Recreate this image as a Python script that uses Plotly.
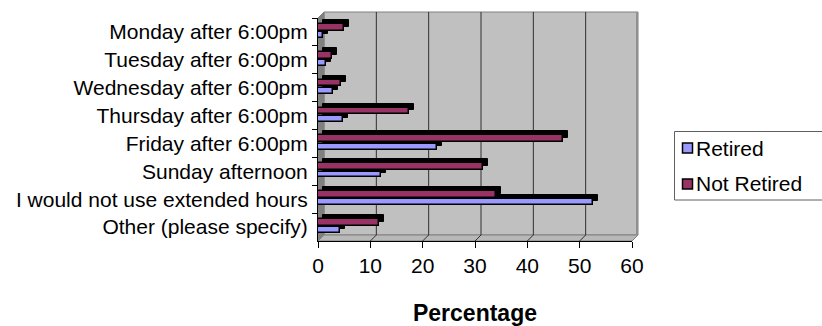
import plotly.graph_objects as go

categories = [
    "Monday after 6:00pm",
    "Tuesday after 6:00pm",
    "Wednesday after 6:00pm",
    "Thursday after 6:00pm",
    "Friday after 6:00pm",
    "Sunday afternoon",
    "I would not use extended hours",
    "Other (please specify)",
]
retired = [0.9, 1.5, 2.8, 4.8, 22.7, 12.0, 52.5, 4.2]
not_retired = [5.0, 2.6, 4.3, 17.3, 46.9, 31.6, 34.0, 11.7]
x_ticks = [0, 10, 20, 30, 40, 50, 60]

W, H = 822, 326
L, R, T, B = 318, 632, 18, 241
XMAX = 60
FONT = "Liberation Sans, Arial, sans-serif"
C_RET = "#9999FF"
C_NOT = "#993366"

ppu_x = (R - L) / XMAX
ppu_y = (B - T) / len(categories)
DX, DY = 5.0, 4.0
WALL = 6

def px(xp):
    return (xp - L) / (R - L)

def py(yp):
    return (B - yp) / (B - T)

fig = go.Figure()

off_not, w_not = -0.285, 0.24
off_ret, w_ret = 0.01, 0.21
sdx = DX / ppu_x
sdy = DY / ppu_y

for vals, off, w in [(not_retired, off_not, w_not), (retired, off_ret, w_ret)]:
    fig.add_trace(go.Bar(
        y=categories, x=vals, base=sdx, orientation="h",
        offset=off - sdy, width=w,
        marker=dict(color="black", line=dict(color="black", width=1)),
        showlegend=False, hoverinfo="skip",
    ))
fig.add_trace(go.Bar(
    y=categories, x=not_retired, orientation="h", name="Not Retired",
    offset=off_not, width=w_not,
    marker=dict(color=C_NOT, line=dict(color="black", width=1.5)),
    showlegend=False,
))
fig.add_trace(go.Bar(
    y=categories, x=retired, orientation="h", name="Retired",
    offset=off_ret, width=w_ret,
    marker=dict(color=C_RET, line=dict(color="black", width=1.5)),
    showlegend=False,
))

shapes = []
shapes.append(dict(type="rect", xref="paper", yref="paper", layer="below",
                   x0=px(L + WALL), x1=px(R + WALL), y0=py(B - WALL), y1=py(T - WALL),
                   fillcolor="#C0C0C0", line=dict(color="#808080", width=1)))
shapes.append(dict(type="path", xref="paper", yref="paper", layer="below",
                   path=f"M{px(L)},{py(T)} L{px(L+WALL)},{py(T-WALL)} L{px(L+WALL)},{py(B-WALL)} L{px(L)},{py(B)} Z",
                   fillcolor="#808080", line=dict(color="#808080", width=1)))
shapes.append(dict(type="path", xref="paper", yref="paper", layer="below",
                   path=f"M{px(L)},{py(B)} L{px(L+WALL)},{py(B-WALL)} L{px(R+WALL)},{py(B-WALL)} L{px(R)},{py(B)} Z",
                   fillcolor="#B8B8B8", line=dict(color="#808080", width=1)))
shapes.append(dict(type="line", xref="paper", yref="paper", layer="below",
                   x0=px(R + WALL - 1), x1=px(R + WALL - 1), y0=py(B - WALL), y1=py(T - WALL),
                   line=dict(color="#909090", width=2)))
for v in x_ticks[1:-1]:
    xp = L + v * ppu_x
    shapes.append(dict(type="line", xref="paper", yref="paper", layer="below",
                       x0=px(xp + WALL), x1=px(xp + WALL), y0=py(B - WALL), y1=py(T - WALL),
                       line=dict(color="#303030", width=1)))
    shapes.append(dict(type="line", xref="paper", yref="paper", layer="below",
                       x0=px(xp), x1=px(xp + WALL), y0=py(B), y1=py(B - WALL),
                       line=dict(color="#303030", width=1)))

LG_L, LG_T, LG_B = 674.5, 131.5, 200
shapes.append(dict(type="rect", xref="paper", yref="paper",
                   x0=px(LG_L), x1=px(W + 10), y0=py(LG_B), y1=py(LG_T),
                   fillcolor="white", line=dict(color="#606060", width=1)))
annotations = []
for name, col, yc in [("Retired", C_RET, 148), ("Not Retired", C_NOT, 184)]:
    shapes.append(dict(type="rect", xref="paper", yref="paper",
                       x0=px(682.5), x1=px(692.5), y0=py(yc + 5), y1=py(yc - 5),
                       fillcolor=col, line=dict(color="black", width=1.5)))
    annotations.append(dict(text=name, xref="paper", yref="paper",
                            x=px(694), y=py(yc), xanchor="left", yanchor="middle",
                            showarrow=False, font=dict(family=FONT, size=21, color="black")))

fig.update_layout(
    width=W, height=H,
    margin=dict(l=L, r=W - R, t=T, b=H - B, pad=0, autoexpand=False),
    paper_bgcolor="white", plot_bgcolor="rgba(0,0,0,0)",
    barmode="overlay", bargap=0,
    showlegend=False,
    font=dict(family=FONT, size=21, color="black"),
    shapes=shapes, annotations=annotations,
    xaxis=dict(range=[0, XMAX], tickvals=x_ticks, ticktext=[str(t) for t in x_ticks],
               automargin=False,
               showgrid=False, zeroline=False, showline=True, linecolor="black", linewidth=1,
               ticks="outside", ticklen=6, tickcolor="black",
               tickfont=dict(family=FONT, size=21),
               title=dict(text="<b>Percentage</b>", font=dict(family=FONT, size=23), standoff=31)),
    yaxis=dict(type="category", categoryorder="array", categoryarray=categories,
               range=[len(categories) - 0.5, -0.5], automargin=False,
               showgrid=False, zeroline=False, showline=True, linecolor="black", linewidth=1,
               ticks="outside", ticklen=5, tickcolor="black", tickson="boundaries",
               ticklabelstandoff=5,
               tickfont=dict(family=FONT, size=21)),
)

fig.write_html("out.html")
